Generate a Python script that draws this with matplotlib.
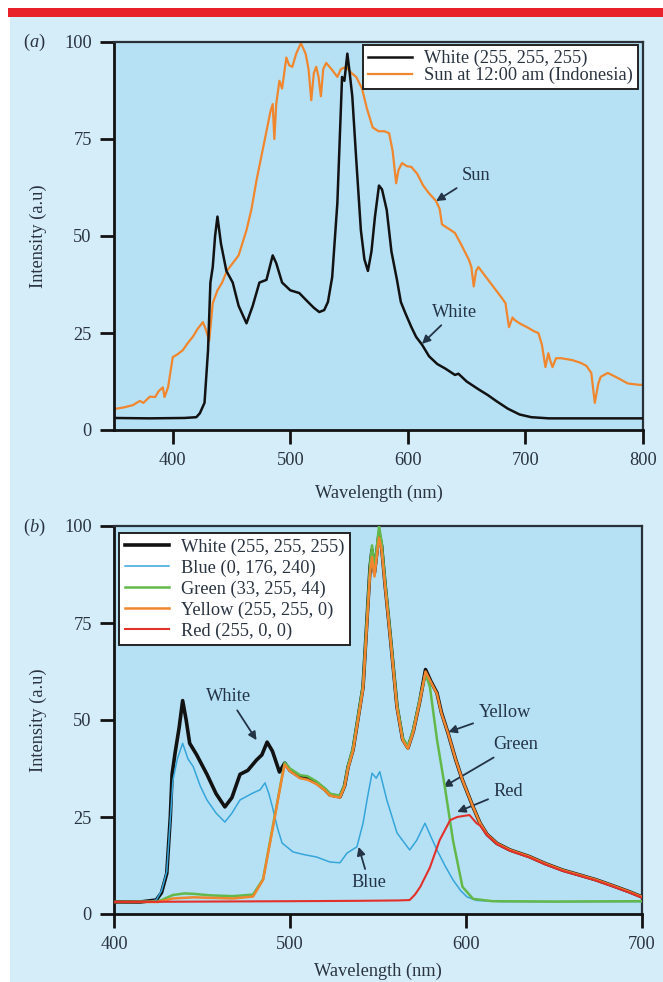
import matplotlib
matplotlib.use("Agg")
import matplotlib.pyplot as plt
from matplotlib.patches import Rectangle

plt.rcParams['font.family'] = ['Liberation Serif', 'DejaVu Serif']
plt.rcParams['mathtext.fontset'] = 'custom'
plt.rcParams['mathtext.it'] = 'Liberation Serif:italic'
plt.rcParams['mathtext.rm'] = 'Liberation Serif'

# ---------------- Panel (a) data ----------------
wl_white_a = [350, 380, 410, 420, 423, 427, 430, 432, 434, 436, 438, 441, 445.6, 451, 456,
              462.7, 468, 473.7, 479.7, 485, 488, 493, 500, 507.6, 515, 520, 524.6, 528.8,
              532, 535.6, 540, 544, 546, 548.5, 550.5, 552.7, 556, 560, 563, 566, 569, 572,
              575.4, 578, 582, 586, 590.7, 594, 598, 603, 607, 612, 618, 625, 632, 640, 643,
              650, 660, 668, 675, 685, 695, 705, 720, 750, 780, 800]
int_white_a = [3.1, 3.0, 3.1, 3.3, 4.3, 7, 20.6, 38, 42, 50, 55, 48, 41, 38, 32,
               27.5, 32, 38, 38.7, 45, 43, 38, 36, 35.3, 33, 31.5, 30.4, 30.9,
               33, 39.4, 58.5, 91, 90, 97, 92, 86, 70, 51.5, 44, 41, 46, 55,
               63, 62, 56.7, 46, 38.7, 33, 30, 26.5, 24, 22, 19, 17, 15.8, 14.2, 14.5,
               12.5, 10.5, 9, 7.5, 5.5, 4, 3.3, 3.0, 3.0, 3.0, 3.0]

wl_sun = [350, 358, 366, 372, 375, 380.5, 385, 388, 391.5, 393, 396, 400, 404, 408.6, 413,
          417, 421, 425.6, 428, 431, 434, 438, 442, 446, 451, 456, 462.7, 467, 471, 475,
          479.7, 483, 485, 486.4, 488, 490.7, 493, 496.6, 499, 501.7, 505, 509, 513, 515.5,
          517.8, 520, 522, 524, 526, 528, 530.5, 535, 540, 543, 547.5, 552, 556, 561, 565,
          570, 575, 580, 584, 587, 590, 592, 595, 599, 603, 608, 613, 618, 624, 627, 629,
          634, 640, 645, 650, 652, 654, 656, 658, 660, 665, 670, 675, 680, 683, 686, 689,
          691, 695, 702.5, 707, 711, 714, 717, 719.5, 721, 723, 726, 730.5, 740, 747, 752,
          756, 759, 762, 764, 770, 778, 787, 795, 800]
int_sun = [5.4, 5.8, 6.4, 7.5, 7.0, 8.6, 8.5, 10, 11, 8.5, 11, 18.8, 19.5, 20.6, 22.5,
           24, 26, 27.8, 26, 23, 32.7, 36, 38, 41, 43, 45, 51.5, 57, 64, 70,
           77, 82, 84, 75, 84, 90, 88, 96, 94, 93.6, 97, 99.7, 97, 93,
           85, 92, 93.6, 91, 86, 93, 94.6, 93, 91, 93, 93.6, 92, 91, 88, 83,
           78, 77, 77, 76.5, 72, 63.6, 67, 68.8, 68, 67.8, 66, 63, 61, 59, 57, 53,
           52, 50.8, 48, 45, 43.8, 42, 37, 41, 42, 40, 38, 36, 34, 32.7, 26.5, 29,
           28.3, 27.5, 26.3, 25.5, 25, 22, 16.2, 19.8, 18, 16.2, 18.5, 18.5, 18, 17.3, 16.5,
           14.7, 7, 12, 13.7, 14.7, 13.5, 12, 11.7, 11.6]

# ---------------- Panel (b) data ----------------
wl_white_b = [400, 415, 424, 427, 430, 432, 433, 434.7, 437, 439, 441, 443, 447, 452.8, 458,
              463, 467, 471.6, 476, 481, 484, 487, 490, 494, 497, 500, 505.7, 510, 515, 520,
              522.7, 528.4, 531, 533, 535.8, 541.5, 545.5, 546.6, 548, 550.6, 552, 554, 556.8,
              560.8, 564, 567, 570, 573.8, 577, 580, 583.5, 586, 589.8, 594, 598, 604, 608,
              612, 617.6, 625, 636, 645, 655, 665, 674, 684, 693, 700]
int_white_b = [3.1, 3.1, 3.6, 5.5, 10.5, 25, 36, 41.5, 48, 55, 50, 44, 41, 36, 31,
               27.6, 30, 36, 37, 39.7, 41, 44.3, 42, 36.6, 38.9, 37, 35.3, 35, 33.8, 32,
               30.7, 30.2, 33, 37.9, 42.3, 58.5, 89.4, 93.8, 88, 98, 95, 85, 72.4,
               53.4, 45, 42.8, 47, 55, 63, 60, 57, 52, 46.6, 40, 34.5, 27.6, 23.4,
               20.5, 18.2, 16.5, 14.8, 13, 11.3, 10, 8.8, 7.2, 5.7, 4.4]

wl_blue = [400, 420, 424, 427, 430, 433.5, 436, 439, 442, 445, 449, 452.8, 458, 463, 467,
           471.6, 479, 483, 485.8, 488, 490, 493, 495.5, 501.7, 508, 515, 522.7, 528.4,
           532.4, 538, 541.5, 544, 546.6, 549, 551, 555, 560.8, 568, 572, 576.7, 580,
           583.5, 588, 592.6, 597, 600.6, 606, 620, 700]
int_blue = [3.1, 3.2, 3.6, 6, 11, 34.5, 40, 44, 40, 38, 33, 29.4, 26, 23.7, 26,
            29.4, 31.2, 32, 33.8, 31, 27.6, 22, 18.3, 16, 15.3, 14.7, 13.4, 13.2,
            15.7, 17.3, 23.4, 30, 36.3, 35, 36.7, 29.4, 20.9, 16.5, 19, 23.4, 20,
            16.5, 12.5, 8.8, 6, 4.4, 3.5, 3.2, 3.2]

wl_green = [400, 425, 433.5, 440, 445, 455, 467.6, 479, 484.7, 490, 495.5, 497, 500, 505.7,
            510, 515, 520, 522.7, 528.4, 531, 533, 535.8, 541.5, 545.5, 546.6, 548, 550.6,
            552, 554, 556.8, 560.8, 564, 567, 570, 573.8, 577, 579.5, 583.5, 588, 592.6,
            598, 604, 615, 650, 700]
int_green = [3.1, 3.2, 4.9, 5.3, 5.2, 4.8, 4.6, 5.0, 9, 22, 35.5, 39, 37.5, 35.8,
             35.5, 34.2, 32.3, 31, 30.5, 33.3, 38.3, 42.8, 59, 90, 95, 89, 100,
             96, 86, 73, 54, 45.5, 43.2, 47.5, 55.5, 62, 58.5, 45, 32.7, 19,
             7, 3.9, 3.3, 3.2, 3.3]

wl_yellow = [400, 425, 433.5, 445, 467.6, 479, 484.7, 490, 495.5, 497, 500, 505.7, 510, 515,
             520, 522.7, 528.4, 531, 533, 535.8, 541.5, 545.5, 546.6, 548, 550.6, 552, 554,
             556.8, 560.8, 564, 567, 570, 573.8, 577, 580, 583.5, 586, 589.8, 594, 598, 604,
             608, 612, 617.6, 625, 636, 645, 655, 665, 674, 684, 693, 700]
int_yellow = [3.1, 3.1, 4.0, 4.3, 4.0, 4.5, 8.8, 21.6, 35.3, 38.5, 36.8, 35, 34.6, 33.5,
              31.8, 30.5, 30, 32.8, 37.6, 42, 58, 88, 92, 87, 97, 94, 84.5,
              72, 53, 44.8, 42.6, 46.8, 54.8, 62.5, 59.8, 56.8, 51.8, 46.6, 40, 34.5, 27.6,
              23.4, 20.5, 18.2, 16.5, 14.8, 13, 11.3, 10, 8.8, 7.2, 5.7, 4.4]

wl_red = [400, 450, 500, 540, 562, 568, 571, 574, 579.5, 585, 591, 595, 599, 602, 606,
          608, 612, 617.6, 625, 636, 645, 655, 665, 674, 684, 693, 700]
int_red = [3.1, 3.2, 3.3, 3.4, 3.5, 3.6, 5, 7, 12, 19, 24.2, 25, 25.3, 25.5, 23.4,
           22.8, 20.3, 18, 16.3, 14.6, 12.8, 11.1, 9.8, 8.6, 7.0, 5.5, 4.2]

legend_a = ['White (255, 255, 255)', 'Sun at 12:00 am (Indonesia)']
legend_b = ['White (255, 255, 255)', 'Blue (0, 176, 240)', 'Green (33, 255, 44)',
            'Yellow (255, 255, 0)', 'Red (255, 0, 0)']
yticks = [0, 25, 50, 75, 100]
xticks_a = [400, 500, 600, 700, 800]
xticks_b = [400, 500, 600, 700]

# ---------------- Styling ----------------
FIG_BG = '#d4edf8'
AX_BG = '#b6e1f5'
C_BLACK = '#121212'
C_ORANGE = '#f0862e'
C_BLUE = '#35a5da'
C_GREEN = '#62b94a'
C_RED = '#e2312b'
TXT = '#2a3440'
ANN = '#243447'
FS = 13.2

fig = plt.figure(figsize=(6.63, 9.82), dpi=100)
fig.patch.set_facecolor('white')
W, H = 663, 982
fig.patches.append(Rectangle((10 / W, 0), 1 - 10 / W, 1 - 17 / H, transform=fig.transFigure,
                             facecolor=FIG_BG, edgecolor='none', zorder=-10))
fig.patches.append(Rectangle((8 / W, 1 - 17 / H), 1 - 8 / W, 9 / H, transform=fig.transFigure,
                             facecolor='#e8202a', edgecolor='none', zorder=-9))

ax1 = fig.add_axes([114 / W, 1 - 430 / H, 529 / W, 388 / H])
ax2 = fig.add_axes([114 / W, 1 - 914 / H, 528 / W, 388 / H])


def style(ax, xlim, xticks, xpad):
    ax.set_facecolor(AX_BG)
    ax.set_xlim(*xlim)
    ax.set_ylim(0, 100)
    ax.set_xticks(xticks)
    ax.set_yticks(yticks)
    ax.tick_params(direction='out', length=10, width=2, color=C_BLACK,
                   labelsize=FS, labelcolor=TXT, pad=6, top=False, right=False)
    for s in ['left', 'bottom']:
        ax.spines[s].set_linewidth(2)
        ax.spines[s].set_color(C_BLACK)
    for s in ['top', 'right']:
        ax.spines[s].set_linewidth(1.6)
        ax.spines[s].set_color('#2a3038')
    ax.set_xlabel('Wavelength (nm)', fontsize=FS, color=TXT, labelpad=xpad)
    ax.set_ylabel('Intensity (a.u)', fontsize=FS, color=TXT, labelpad=12)


style(ax1, (350, 800), xticks_a, 11)
style(ax2, (400, 700), xticks_b, 7)

# Panel (a)
ax1.plot(wl_white_a, int_white_a, color=C_BLACK, lw=1.8, label=legend_a[0], zorder=3)
ax1.plot(wl_sun, int_sun, color=C_ORANGE, lw=1.6, label=legend_a[1], zorder=2)
leg1 = ax1.legend(loc='upper right', bbox_to_anchor=(0.99, 0.992), borderaxespad=0,
                  fontsize=FS, frameon=True, fancybox=False, edgecolor='#222222',
                  framealpha=1, handlelength=2.4, handletextpad=0.7, labelspacing=0.0,
                  borderpad=0.25)
leg1.get_frame().set_linewidth(1.4)
for t in leg1.get_texts():
    t.set_color(TXT)

arrow = dict(arrowstyle='-|>', color=ANN, lw=1.3, mutation_scale=12, shrinkA=2, shrinkB=0)
ax1.annotate('Sun', xy=(624, 59), xytext=(658, 65.5), fontsize=FS, color=ANN,
             ha='center', va='center', arrowprops=arrow)
ax1.annotate('White', xy=(612, 22.2), xytext=(640, 30.4), fontsize=FS, color=ANN,
             ha='center', va='center', arrowprops=arrow)

# Panel (b)
ax2.plot(wl_white_b, int_white_b, color=C_BLACK, lw=2.6, label=legend_b[0], zorder=2)
ax2.plot(wl_blue, int_blue, color=C_BLUE, lw=1.1, label=legend_b[1], zorder=3)
ax2.plot(wl_green, int_green, color=C_GREEN, lw=1.8, label=legend_b[2], zorder=4)
ax2.plot(wl_yellow, int_yellow, color=C_ORANGE, lw=1.8, label=legend_b[3], zorder=5)
ax2.plot(wl_red, int_red, color=C_RED, lw=1.5, label=legend_b[4], zorder=6)
leg2 = ax2.legend(loc='upper left', bbox_to_anchor=(0.0095, 0.982), borderaxespad=0,
                  fontsize=FS, frameon=True, fancybox=False, edgecolor='#222222',
                  framealpha=1, handlelength=2.4, handletextpad=0.7, labelspacing=0.2,
                  borderpad=0.3)
leg2.get_frame().set_linewidth(1.4)
for t in leg2.get_texts():
    t.set_color(TXT)

ax2.annotate('White', xy=(481, 44.8), xytext=(465, 56), fontsize=FS, color=ANN,
             ha='center', va='center', arrowprops=arrow)
ax2.annotate('Yellow', xy=(590, 46.9), xytext=(622, 52), fontsize=FS, color=ANN,
             ha='center', va='center', arrowprops=arrow)
ax2.annotate('Green', xy=(587, 32.7), xytext=(628, 43.6), fontsize=FS, color=ANN,
             ha='center', va='center', arrowprops=arrow)
ax2.annotate('Red', xy=(595, 26.3), xytext=(624, 31.7), fontsize=FS, color=ANN,
             ha='center', va='center', arrowprops=arrow)
ax2.annotate('Blue', xy=(539, 17.3), xytext=(545, 8), fontsize=FS, color=ANN,
             ha='center', va='center', arrowprops=arrow)

fig.text(34 / W, 1 - 42 / H, r'($\it{a}$)', fontsize=FS, color=TXT, ha='center', va='center')
fig.text(34 / W, 1 - 527 / H, r'($\it{b}$)', fontsize=FS, color=TXT, ha='center', va='center')

fig.savefig('out.png', dpi=100, facecolor=fig.get_facecolor())
